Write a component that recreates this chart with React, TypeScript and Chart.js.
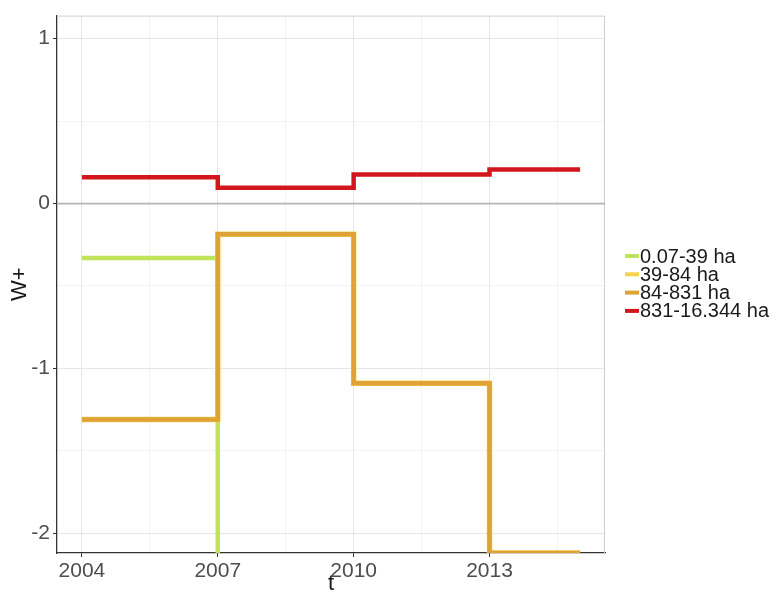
import { useEffect, useRef } from "react";
import { Chart, registerables } from "chart.js";
Chart.register(...registerables);

const years = [2004, 2007, 2010, 2013, 2015];
const seriesLabels = ["0.07-39 ha", "39-84 ha", "84-831 ha", "831-16.344 ha"];
const seriesColors = ["#bfe35a", "#f5d34a", "#dfa236", "#d3161d"];
const greenValues = [-0.33, -2.3];
const yellowValues = [-1.31, -0.187, -1.09, -2.12, -2.12];
const orangeValues = [-1.31, -0.187, -1.09, -2.12, -2.12];
const redValues = [0.16, 0.096, 0.176, 0.207, 0.207];
const xMajorTicks = [2004, 2007, 2010, 2013];
const xMinorTicks = [2005.5, 2008.5, 2011.5, 2014.5];
const yMajorTicks = [-2, -1, 0, 1];
const yMinorTicks = [-1.5, -0.5, 0.5];
const xTitle = "t";
const yTitle = "W+";

const FONT = "'Liberation Sans', Arial, sans-serif";

function pts(vals: number[]) {
  return vals.map((v, i) => ({ x: years[i], y: v }));
}

const decorPlugin = {
  id: "decor",
  beforeDatasetsDraw(chart: any) {
    const { ctx, chartArea: a, scales } = chart;
    ctx.save();
    ctx.strokeStyle = "#cfcfcf";
    ctx.lineWidth = 1;
    ctx.beginPath();
    ctx.moveTo(a.left, a.top + 0.5);
    ctx.lineTo(a.right - 0.5, a.top + 0.5);
    ctx.lineTo(a.right - 0.5, a.bottom);
    ctx.stroke();
    const y0 = scales.y.getPixelForValue(0);
    ctx.strokeStyle = "#b5b5b5";
    ctx.lineWidth = 1.8;
    ctx.beginPath();
    ctx.moveTo(a.left, y0);
    ctx.lineTo(a.right, y0);
    ctx.stroke();
    ctx.restore();
  },
  afterDraw(chart: any) {
    const { ctx, chartArea: a } = chart;
    ctx.save();
    ctx.fillStyle = "#1a1a1a";
    ctx.font = `22px ${FONT}`;
    ctx.textAlign = "center";
    ctx.textBaseline = "middle";
    ctx.fillText(xTitle, (a.left + a.right) / 2, 584);
    ctx.translate(20, (a.top + a.bottom) / 2);
    ctx.rotate(-Math.PI / 2);
    ctx.fillText(yTitle, 0, 0);
    ctx.restore();
    ctx.save();
    const startY = 256;
    const pitch = 18.3;
    ctx.font = `20px ${FONT}`;
    ctx.textAlign = "left";
    ctx.textBaseline = "middle";
    seriesLabels.forEach((lab, i) => {
      const y = startY + i * pitch;
      ctx.strokeStyle = seriesColors[i];
      ctx.lineWidth = 4;
      ctx.beginPath();
      ctx.moveTo(625, y);
      ctx.lineTo(639, y);
      ctx.stroke();
      ctx.fillStyle = "#1a1a1a";
      ctx.fillText(lab, 640, y + 1);
    });
    ctx.restore();
  },
};

export default function App() {
  const ref = useRef<HTMLCanvasElement | null>(null);
  useEffect(() => {
    document.body.style.margin = "0";
    const canvas = ref.current!;
    const isMajorX = (v: number) => xMajorTicks.includes(v);
    const isMajorY = (v: number) => yMajorTicks.includes(v);
    const mk = (vals: number[], i: number, width: number, order: number) => ({
      label: seriesLabels[i],
      data: pts(vals),
      borderColor: seriesColors[i],
      backgroundColor: seriesColors[i],
      borderWidth: width,
      stepped: true as const,
      pointRadius: 0,
      fill: false,
      clip: 0,
      order,
      borderCapStyle: "butt" as const,
      borderJoinStyle: "miter" as const,
    });
    const chart = new Chart(canvas, {
      type: "line",
      data: {
        datasets: [
          mk(greenValues, 0, 4.5, 3),
          mk(yellowValues, 1, 5.5, 2),
          mk(orangeValues, 2, 4.5, 1),
          mk(redValues, 3, 4.5, 0),
        ],
      },
      options: {
        animation: false,
        responsive: false,
        events: [],
        layout: { padding: { left: 0, right: 173, top: 12, bottom: 0 } },
        plugins: { legend: { display: false }, tooltip: { enabled: false } },
        scales: {
          x: {
            type: "linear",
            min: 2003.45,
            max: 2015.55,
            afterBuildTicks: (s: any) => {
              s.ticks = [...xMajorTicks, ...xMinorTicks].sort((p, q) => p - q).map((v) => ({ value: v }));
            },
            afterFit: (s: any) => {
              s.height = 43;
            },
            ticks: {
              autoSkip: false,
              maxRotation: 0,
              padding: 2,
              color: "#4d4d4d",
              font: { family: FONT, size: 21 },
              callback: (v: any) => (isMajorX(Number(v)) ? String(v) : ""),
            },
            grid: {
              color: (c: any) => (c.tick && isMajorX(c.tick.value) ? "#e6e6e6" : "#f3f3f3"),
              tickColor: (c: any) => (c.tick && isMajorX(c.tick.value) ? "#333" : "rgba(0,0,0,0)"),
              tickLength: 4,
              lineWidth: 1,
            },
            border: { display: true, color: "#333", width: 1.3 },
          },
          y: {
            type: "linear",
            min: -2.12,
            max: 1.14,
            afterBuildTicks: (s: any) => {
              s.ticks = [...yMajorTicks, ...yMinorTicks].sort((p, q) => p - q).map((v) => ({ value: v }));
            },
            afterFit: (s: any) => {
              s.width = 57;
            },
            ticks: {
              autoSkip: false,
              padding: 3,
              color: "#4d4d4d",
              font: { family: FONT, size: 21 },
              callback: (v: any) => (isMajorY(Number(v)) ? String(v) : ""),
            },
            grid: {
              color: (c: any) => (c.tick && isMajorY(c.tick.value) ? "#e6e6e6" : "#f3f3f3"),
              tickColor: (c: any) => (c.tick && isMajorY(c.tick.value) ? "#333" : "rgba(0,0,0,0)"),
              tickLength: 4,
              lineWidth: 1,
            },
            border: { display: true, color: "#333", width: 1.3 },
          },
        },
      },
      plugins: [decorPlugin],
    });
    return () => chart.destroy();
  }, []);
  return (
    <div style={{ width: 778, height: 596 }}>
      <canvas ref={ref} width={778} height={596} style={{ display: "block" }} />
    </div>
  );
}
